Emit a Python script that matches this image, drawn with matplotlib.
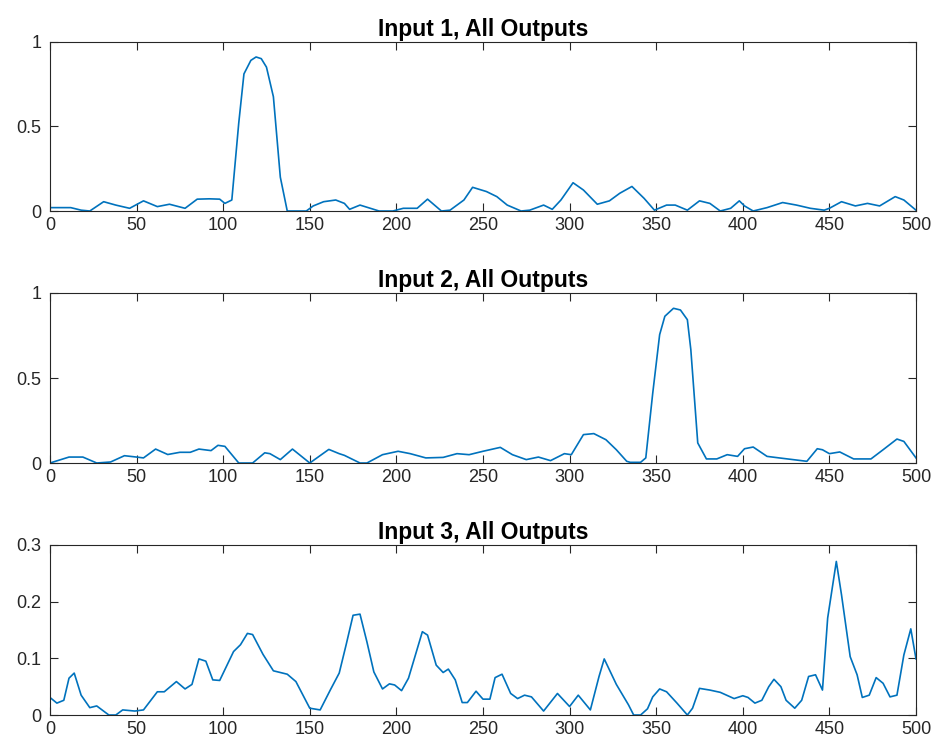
import matplotlib
matplotlib.use("Agg")
import matplotlib.pyplot as plt

plt.rcParams['font.family'] = ['Liberation Sans', 'DejaVu Sans']

# Input 1, All Outputs
x1 = [0, 12, 18, 23, 31, 38, 46, 54, 62, 69, 78, 85, 92, 98, 101, 105, 109, 112, 116, 119, 122, 125, 129,
      133, 137, 142, 148, 152, 158, 165, 170, 173, 179, 185, 190, 198, 204, 212, 218, 226, 231, 239, 244,
      252, 258, 264, 272, 277, 285, 290, 295, 302, 308, 316, 323, 329, 336, 343, 349, 356, 361, 368, 375,
      381, 387, 393, 398, 401, 406, 414, 423, 431, 439, 447, 450, 457, 465, 472, 479, 488, 493, 500]
y1 = [0.02, 0.02, 0.005, 0.0, 0.055, 0.035, 0.016, 0.06, 0.026, 0.04, 0.016, 0.07, 0.072, 0.07, 0.045,
      0.065, 0.52, 0.81, 0.89, 0.91, 0.9, 0.85, 0.675, 0.2, 0.0, 0.0, 0.0, 0.03, 0.055, 0.065, 0.045, 0.01,
      0.035, 0.016, 0.0, 0.0, 0.016, 0.016, 0.07, 0.0, 0.005, 0.065, 0.14, 0.115, 0.085, 0.035, 0.0, 0.005,
      0.035, 0.01, 0.065, 0.167, 0.124, 0.04, 0.06, 0.105, 0.145, 0.075, 0.005, 0.035, 0.035, 0.005, 0.06,
      0.045, 0.0, 0.016, 0.06, 0.03, 0.0, 0.02, 0.05, 0.035, 0.016, 0.005, 0.016, 0.055, 0.03, 0.045, 0.03,
      0.085, 0.065, 0.005]

# Input 2, All Outputs
x2 = [0, 11, 19, 27, 35, 43, 50, 54, 61, 68, 75, 81, 86, 93, 97, 101, 109, 117, 124, 127, 133, 140, 150,
      161, 167, 170, 179, 183, 192, 201, 208, 217, 227, 235, 242, 250, 260, 267, 275, 282, 289, 297, 301,
      308, 314, 321, 327, 333, 335, 341, 344, 348, 352, 355, 360, 364, 368, 370, 374, 379, 385, 391, 397,
      401, 406, 414, 421, 429, 437, 443, 446, 450, 456, 464, 474, 481, 489, 493, 500]
y2 = [0.0, 0.035, 0.035, 0.0, 0.006, 0.043, 0.035, 0.03, 0.082, 0.05, 0.063, 0.063, 0.082, 0.073, 0.104,
      0.098, 0.0, 0.0, 0.06, 0.055, 0.02, 0.082, 0.0, 0.08, 0.055, 0.045, 0.0, 0.0, 0.049, 0.069, 0.055,
      0.03, 0.033, 0.055, 0.049, 0.069, 0.092, 0.049, 0.02, 0.035, 0.014, 0.055, 0.049, 0.167, 0.173,
      0.137, 0.078, 0.01, 0.004, 0.004, 0.03, 0.41, 0.755, 0.863, 0.91, 0.9, 0.843, 0.667, 0.118, 0.024,
      0.024, 0.049, 0.039, 0.084, 0.094, 0.039, 0.03, 0.02, 0.01, 0.084, 0.078, 0.055, 0.065, 0.024, 0.024,
      0.078, 0.141, 0.127, 0.03]

# Input 3, All Outputs
x3 = [0, 4, 8, 11, 14, 18, 23, 27, 34, 38, 42, 49, 54, 62, 66, 73, 78, 82, 86, 90, 94, 98, 106, 110, 114,
      117, 123, 129, 137, 142, 150, 156, 162, 167, 171, 175, 179, 183, 187, 192, 196, 199, 203, 207, 211,
      215, 218, 223, 227, 230, 234, 238, 241, 246, 250, 254, 257, 261, 266, 270, 274, 278, 285, 293, 300,
      305, 312, 317, 320, 327, 334, 337, 341, 345, 348, 352, 356, 362, 368, 371, 375, 381, 387, 395, 400,
      403, 407, 411, 415, 418, 422, 425, 430, 434, 438, 442, 446, 449, 454, 457, 462, 466, 469, 473, 477,
      481, 485, 489, 493, 497, 500]
y3 = [0.031, 0.021, 0.026, 0.065, 0.074, 0.035, 0.013, 0.016, 0.0, 0.0, 0.009, 0.007, 0.009, 0.041, 0.041,
      0.059, 0.046, 0.054, 0.099, 0.095, 0.062, 0.061, 0.112, 0.124, 0.144, 0.142, 0.107, 0.078, 0.072,
      0.059, 0.012, 0.009, 0.045, 0.074, 0.124, 0.176, 0.178, 0.129, 0.076, 0.046, 0.055, 0.053, 0.043,
      0.065, 0.106, 0.147, 0.141, 0.088, 0.075, 0.081, 0.062, 0.022, 0.022, 0.042, 0.028, 0.028, 0.066,
      0.072, 0.038, 0.029, 0.035, 0.032, 0.007, 0.038, 0.015, 0.035, 0.009, 0.068, 0.099, 0.054, 0.018,
      0.0, 0.0, 0.011, 0.032, 0.046, 0.041, 0.021, 0.0, 0.012, 0.047, 0.044, 0.04, 0.029, 0.034, 0.031,
      0.021, 0.026, 0.05, 0.063, 0.05, 0.026, 0.012, 0.026, 0.068, 0.071, 0.044, 0.171, 0.271, 0.212,
      0.103, 0.071, 0.031, 0.035, 0.066, 0.056, 0.032, 0.035, 0.106, 0.152, 0.099]

panels = [
    (x1, y1, "Input 1, All Outputs", [0, 1], [0, 0.5, 1], ["0", "0.5", "1"]),
    (x2, y2, "Input 2, All Outputs", [0, 1], [0, 0.5, 1], ["0", "0.5", "1"]),
    (x3, y3, "Input 3, All Outputs", [0, 0.3], [0, 0.1, 0.2, 0.3], ["0", "0.1", "0.2", "0.3"]),
]

fig = plt.figure(figsize=(9.39, 7.48), dpi=100)
dark = "#262626"
# axes boxes in figure fractions (left, bottom, width, height)
boxes = [(0.0532, 0.7179, 0.9223, 0.2263),
         (0.0532, 0.3810, 0.9223, 0.2273),
         (0.0532, 0.0441, 0.9223, 0.2273)]

for (xs, ys, title, ylim, yticks, ylabels), box in zip(panels, boxes):
    ax = fig.add_axes(box)
    ax.plot(xs, ys, color="#0072BD", linewidth=1.2)
    ax.set_xlim(0, 500)
    ax.set_ylim(*ylim)
    ax.set_xticks(range(0, 501, 50))
    ax.set_yticks(yticks)
    ax.set_yticklabels(ylabels)
    ax.set_title(title, fontsize=16.5, fontweight="bold", color="black", pad=4)
    ax.tick_params(direction="in", top=True, right=True, length=5.5, width=0.8,
                   colors=dark, labelsize=13)
    ax.tick_params(axis="x", pad=4)
    ax.tick_params(axis="y", pad=6)
    for s in ax.spines.values():
        s.set_color(dark)
        s.set_linewidth(0.8)

fig.savefig("out.png", dpi=100)
